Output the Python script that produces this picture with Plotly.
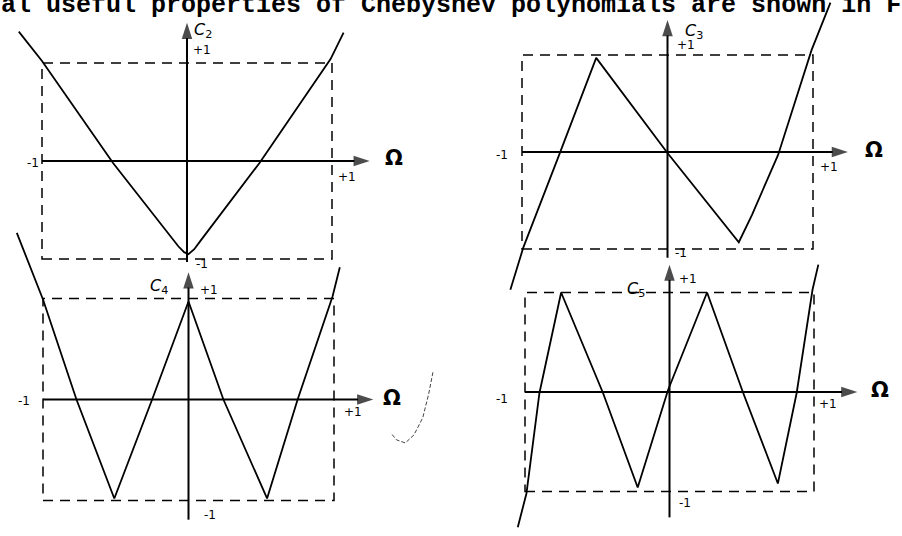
import plotly.graph_objects as go

W, H = 902, 536

# Hand-sketched Chebyshev polynomials C_n(Ω)
c2_x = [-1.16, -1.00, -0.51, -0.06, -0.02, 0.01, 0.05, 0.09, 0.50, 0.99, 1.08]
c2_y = [1.32, 1.02, -0.02, -0.87, -0.93, -0.95, -0.90, -0.82, -0.02, 1.04, 1.31]

c3_x = [-1.08, -0.99, -0.75, -0.49, 0.00, 0.49, 0.58, 0.76, 0.99, 1.12]
c3_y = [-1.42, -0.98, -0.05, 0.97, -0.01, -0.93, -0.65, -0.03, 1.05, 1.54]

c4_x = [-1.18, -1.00, -0.77, -0.51, -0.25, 0.00, 0.24, 0.54, 0.75, 0.99, 1.04]
c4_y = [1.65, 0.99, 0.00, -0.98, 0.00, 0.97, 0.00, -0.98, 0.00, 1.02, 1.31]

c5_x = [-1.05, -0.99, -0.90, -0.75, -0.46, -0.22, -0.01, 0.26, 0.51, 0.75, 0.88, 0.99, 1.03]
c5_y = [-1.36, -1.02, -0.01, 1.00, -0.01, -0.96, 0.02, 1.00, -0.01, -0.92, -0.01, 1.03, 1.28]

# faint pencil stroke to the right of the C4 sketch
stroke_x = [1.68, 1.65, 1.61, 1.55, 1.49, 1.43, 1.39]
stroke_y = [0.27, 0.05, -0.18, -0.35, -0.43, -0.40, -0.33]

# extent of the drawn Ω axis (arrow tip) and the vertical axis (bottom, arrow tip)
omega_axis_end = [1.26, 1.24, 1.27, 1.30]
vert_axis_top = [1.41, 1.36, 1.26, 1.28]
vert_axis_bottom = [-1.03, -1.09, -1.19, -1.26]

curve_names = ["2", "3", "4", "5"]
curves_x = [c2_x, c3_x, c4_x, c5_x]
curves_y = [c2_y, c3_y, c4_y, c5_y]

header = "al useful properties of Chebyshev polynomials are shown in F"

# pixel layout of each sketch: centre, pixels per unit, and subplot area (l, r, t, b)
panels = [
    dict(cx=187.0, cy=161.0, sx=145.0, sy=98.0, area=(0, 451, 0, 268),
         name_at=(0.11, 1.33), top_at=(0.10, 1.13), left_at=(-1.06, -0.02),
         right_at=(1.10, -0.16), bot_at=(0.10, -1.05), omega_at=(1.43, 0.03)),
    dict(cx=667.5, cy=152.0, sx=145.5, sy=97.0, area=(451, 902, 0, 300),
         name_at=(0.18, 1.24), top_at=(0.13, 1.10), left_at=(-1.14, -0.03),
         right_at=(1.11, -0.15), bot_at=(0.09, -1.04), omega_at=(1.42, 0.02)),
    dict(cx=188.5, cy=399.5, sx=145.5, sy=101.0, area=(0, 451, 225, 536),
         name_at=(-0.20, 1.12), top_at=(0.14, 1.08), left_at=(-1.13, -0.01),
         right_at=(1.13, -0.12), bot_at=(0.15, -1.14), omega_at=(1.40, 0.01)),
    dict(cx=669.5, cy=392.0, sx=144.5, sy=99.5, area=(451, 902, 255, 536),
         name_at=(-0.23, 1.03), top_at=(0.13, 1.14), left_at=(-1.16, -0.07),
         right_at=(1.10, -0.12), bot_at=(0.11, -1.12), omega_at=(1.46, 0.02)),
]

hand_font = dict(family="DejaVu Sans", size=12, color="black")

fig = go.Figure()
layout_axes = {}


def arrow_line(xs, ys, xa, ya):
    """Straight axis line ending in a filled arrow head."""
    return go.Scatter(
        x=xs, y=ys, mode="lines+markers", xaxis=xa, yaxis=ya,
        line=dict(color="black", width=2),
        marker=dict(symbol="arrow", angleref="previous", size=[0, 17],
                    color="black", line=dict(width=0)),
        hoverinfo="skip", showlegend=False,
    )


for i, p in enumerate(panels):
    k = "" if i == 0 else str(i + 1)
    xa, ya = "x" + k, "y" + k
    L, R, T, B = p["area"]
    layout_axes["xaxis" + k] = dict(
        domain=[L / W, R / W],
        range=[(L - p["cx"]) / p["sx"], (R - p["cx"]) / p["sx"]],
        visible=False, fixedrange=True, anchor=ya,
    )
    layout_axes["yaxis" + k] = dict(
        domain=[1 - B / H, 1 - T / H],
        range=[(p["cy"] - B) / p["sy"], (p["cy"] - T) / p["sy"]],
        visible=False, fixedrange=True, anchor=xa,
    )

    # dashed ±1 window
    fig.add_shape(type="rect", xref=xa, yref=ya, x0=-1, x1=1, y0=-1, y1=1,
                  line=dict(color="black", width=1.5, dash="10px,7px"), layer="below")

    # Ω axis and C_n axis with arrow heads
    fig.add_trace(arrow_line([-1, omega_axis_end[i]], [0, 0], xa, ya))
    fig.add_trace(arrow_line([0, 0], [vert_axis_bottom[i], vert_axis_top[i]], xa, ya))

    # the polynomial sketch
    fig.add_trace(go.Scatter(x=curves_x[i], y=curves_y[i], mode="lines",
                             line=dict(color="black", width=1.8),
                             xaxis=xa, yaxis=ya, hoverinfo="skip", showlegend=False))

    labels = [
        (p["name_at"], "<i>C</i><sub>" + curve_names[i] + "</sub>", 16),
        (p["top_at"], "+1", 12),
        (p["left_at"], "-1", 12),
        (p["right_at"], "+1", 12),
        (p["bot_at"], "-1", 12),
        (p["omega_at"], "<b>Ω</b>", 21),
    ]
    for (lx, ly), txt, size in labels:
        fig.add_annotation(x=lx, y=ly, xref=xa, yref=ya, text=txt, showarrow=False,
                           font=dict(hand_font, size=size), xanchor="center",
                           yanchor="middle")

# pencil stroke beside the C4 sketch
fig.add_trace(go.Scatter(x=stroke_x, y=stroke_y, mode="lines",
                         line=dict(color="#444444", width=1, dash="4px,2px"),
                         xaxis="x3", yaxis="y3", hoverinfo="skip", showlegend=False))

# running text line of the page above the sketches
fig.add_annotation(x=0, y=1, xref="paper", yref="paper", xanchor="left", yanchor="top",
                   yshift=11, xshift=-1, text="<b>" + header + "</b>", showarrow=False,
                   font=dict(family="Liberation Mono", size=25, color="black"))

fig.update_layout(
    width=W, height=H, autosize=False,
    margin=dict(l=0, r=0, t=0, b=0, pad=0),
    paper_bgcolor="white", plot_bgcolor="rgba(0,0,0,0)",
    showlegend=False,
    **layout_axes,
)

fig.write_html("out.html", config={"displayModeBar": False})
